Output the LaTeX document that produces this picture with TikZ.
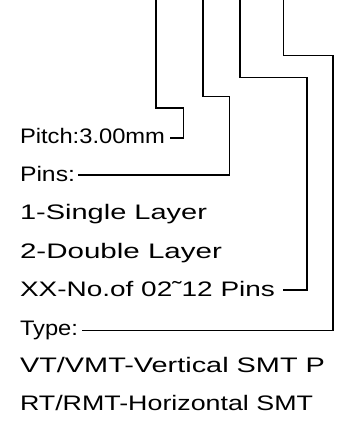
\documentclass[tikz,border=0pt]{standalone}
\usepackage{fontspec}
\setmainfont{Liberation Sans}
\usepackage{graphicx}
\newcommand{\fitw}[2]{\resizebox{#1}{\height}{#2}}
\tikzset{
  lead/.style={draw=black, line width=1.3pt},
  lbl/.style={anchor=base west, inner sep=0pt, outer sep=0pt, font=\fontsize{21}{21}\selectfont}
}
\begin{document}
\begin{tikzpicture}[x=1pt,y=-1pt]
\useasboundingbox (0,0) rectangle (338,422);
% text lines
\node[lbl] (t1) at (20,143) {\fitw{145pt}{Pitch:3.00mm}};
\node[lbl] (t2) at (20,181) {\fitw{55pt}{Pins:}};
\node[lbl] (t3) at (20,219.5) {\fitw{187pt}{1-Single Layer}};
\node[lbl] (t4) at (20,258) {\fitw{202pt}{2-Double Layer}};
\node[lbl] (t5) at (20,296.5) {\fitw{255pt}{XX-No.of 02˜12 Pins}};
\node[lbl] (t6) at (20,335) {\fitw{58pt}{Type:}};
\node[lbl] (t7) at (20,372.5) {\fitw{305pt}{VT/VMT-Vertical SMT P}};
\node[lbl] (t8) at (20,410.5) {\fitw{293pt}{RT/RMT-Horizontal SMT}};
% leader start/end points
\coordinate (s1) at (156,-1);
\coordinate (b1) at (183.5,108);
\coordinate (e1) at (170,138);
\coordinate (s2) at (203,-1);
\coordinate (b2) at (229.5,96.5);
\coordinate (e2) at (78,175);
\coordinate (s3) at (240,-1);
\coordinate (b3) at (307,77.5);
\coordinate (e3) at (283,290);
\coordinate (s4) at (283.5,-1);
\coordinate (b4) at (333,55.5);
\coordinate (e4) at (82,330.5);
% leaders
\draw[lead] (s1) |- (b1) |- (e1);
\draw[lead] (s2) |- (b2) |- (e2);
\draw[lead] (s3) |- (b3) |- (e3);
\draw[lead] (s4) |- (b4) |- (e4);
\end{tikzpicture}
\end{document}
